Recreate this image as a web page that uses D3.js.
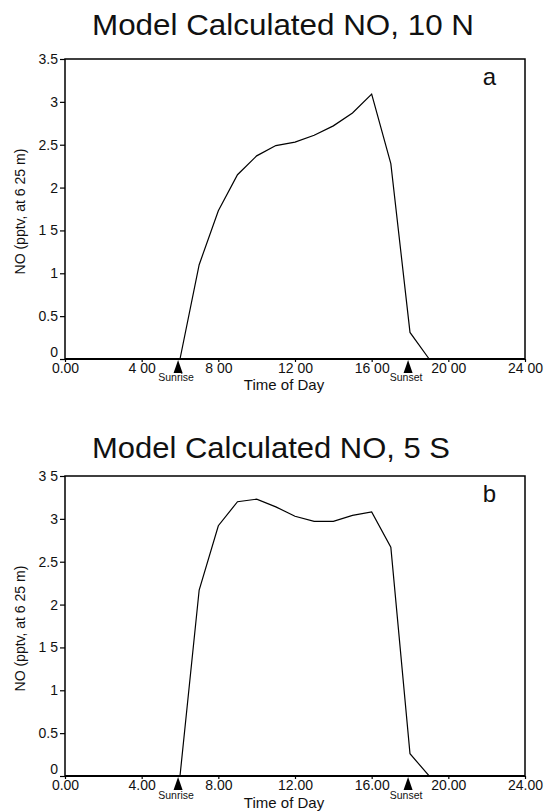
<!DOCTYPE html>
<html>
<head>
<meta charset="utf-8">
<script src="https://cdn.jsdelivr.net/npm/d3@7"></script>
<style>
    body { margin: 0; background: #fff; }
    text { font-family: "Liberation Sans", Arial, sans-serif; fill: #111; }
</style>
</head>
<body>
<svg id="chart" width="545" height="812"></svg>
<script>
// hourly model output, 0:00 .. 24:00
const hours = d3.range(0, 25);
const noNorth = [0, 0, 0, 0, 0, 0, 0, 1.10, 1.73, 2.15, 2.37, 2.49, 2.53, 2.61, 2.72, 2.87, 3.09, 2.28, 0.31, 0, 0, 0, 0, 0, 0];
const noSouth = [0, 0, 0, 0, 0, 0, 0, 2.17, 2.92, 3.20, 3.23, 3.14, 3.03, 2.97, 2.97, 3.04, 3.08, 2.67, 0.26, 0, 0, 0, 0, 0, 0];

const xTicks = [0, 4, 8, 12, 16, 20, 24];
const xLabelsA = ['0.00', '4 00', '8 00', '12 00', '16 00', '20 00', '24 00'];
const xLabelsB = ['0.00', '4.00', '8.00', '12.00', '16.00', '20.00', '24.00'];
const yTicks = [0, 0.5, 1, 1.5, 2, 2.5, 3, 3.5];
const yLabelsA = ['0', '0.5', '1', '1 5', '2', '2.5', '3', '3.5'];
const yLabelsB = ['0', '0.5', '1', '1 5', '2', '2.5', '3', '3 5'];

const markerHours = [5.9, 17.9];
const markerNames = ['Sunrise', 'Sunset'];

const panels = [
    { title: 'Model Calculated NO, 10 N', letter: 'a', values: noNorth, xLabels: xLabelsA, yLabels: yLabelsA, top: 59, titleGap: 24, titleW: 382, lblGap: 22 },
    { title: 'Model Calculated NO, 5 S', letter: 'b', values: noSouth, xLabels: xLabelsB, yLabels: yLabelsB, top: 476, titleGap: 18, titleW: 358, lblGap: 23 }
];

const svg = d3.select('#chart');
const left = 65, right = 525, plotH = 300;

const x = d3.scaleLinear().domain([0, 24]).range([left, right]);

panels.forEach(p => {
    const y = d3.scaleLinear().domain([0, 3.5]).range([p.top + plotH, p.top]);
    const g = svg.append('g');

    g.append('text')
        .attr('x', 92)
        .attr('y', p.top - p.titleGap)
        .attr('font-size', 29)
        .attr('textLength', p.titleW)
        .attr('lengthAdjust', 'spacingAndGlyphs')
        .text(p.title);

    // frame
    g.append('rect')
        .attr('x', left).attr('y', p.top)
        .attr('width', right - left).attr('height', plotH)
        .attr('fill', 'none').attr('stroke', '#000').attr('stroke-width', 1.5);

    const yAxis = g.append('g')
        .attr('transform', `translate(${left},0)`)
        .call(d3.axisLeft(y).tickValues(yTicks).tickSize(5).tickPadding(2)
            .tickFormat((d, i) => p.yLabels[i]));
    const xAxis = g.append('g')
        .attr('transform', `translate(0,${p.top + plotH})`)
        .call(d3.axisBottom(x).tickValues(xTicks).tickSize(3).tickPadding(0)
            .tickFormat((d, i) => p.xLabels[i]));

    [yAxis, xAxis].forEach(a => {
        a.select('.domain').remove();
        a.selectAll('line').attr('stroke', '#000').attr('stroke-width', 1.2);
        a.selectAll('text').attr('font-size', 14).attr('fill', '#111')
            .style('font-family', '"Liberation Sans", Arial, sans-serif');
    });
    // lift the zero label clear of the first time label
    yAxis.selectAll('.tick text').filter(d => d === 0).attr('dy', '-0.18em');
    xAxis.selectAll('.tick text').attr('dy', '0.8em');

    // thicker zero line
    g.append('line')
        .attr('x1', left).attr('x2', right)
        .attr('y1', y(0)).attr('y2', y(0))
        .attr('stroke', '#000').attr('stroke-width', 2.2);

    const line = d3.line().x((d, i) => x(hours[i])).y(d => y(d));
    g.append('path')
        .datum(p.values)
        .attr('d', line)
        .attr('fill', 'none')
        .attr('stroke', '#000')
        .attr('stroke-width', 1.2);

    g.append('text')
        .attr('x', x(21.8))
        .attr('y', y(3.2))
        .attr('font-size', 24)
        .text(p.letter);

    g.append('text')
        .attr('transform', `translate(25,${y(1.72)}) rotate(-90)`)
        .attr('text-anchor', 'middle')
        .attr('font-size', 14)
        .text('NO  (pptv, at 6 25 m)');

    g.append('text')
        .attr('x', 284)
        .attr('y', y(0) + p.lblGap + 9)
        .attr('text-anchor', 'middle')
        .attr('font-size', 15)
        .text('Time of Day');

    markerHours.forEach((h, i) => {
        const cx = x(h), base = y(0);
        g.append('path')
            .attr('d', `M${cx},${base + 1}L${cx + 4.5},${base + 14}L${cx - 4.5},${base + 14}Z`)
            .attr('fill', '#000');
        g.append('text')
            .attr('x', cx - 2)
            .attr('y', base + p.lblGap)
            .attr('text-anchor', 'middle')
            .attr('font-size', 10.5)
            .text(markerNames[i]);
    });
});
</script>
</body>
</html>
